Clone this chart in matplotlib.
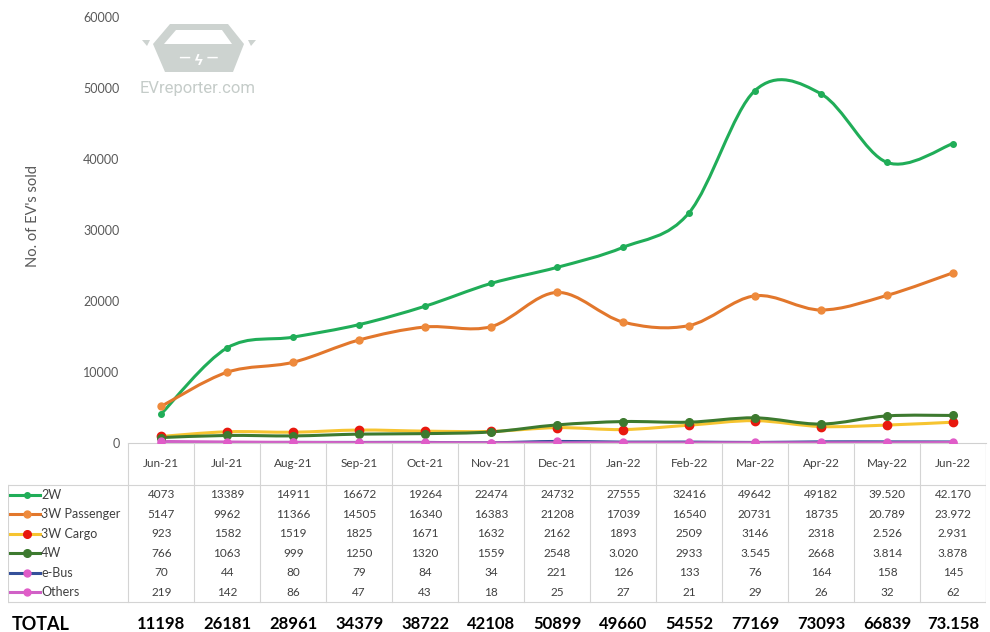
import numpy as np
import matplotlib
matplotlib.use("Agg")
import matplotlib.pyplot as plt
from matplotlib.path import Path
from matplotlib.patches import PathPatch, Polygon
from matplotlib.lines import Line2D

plt.rcParams['font.family'] = ['Lato', 'DejaVu Sans']

# data, as printed in the table under the chart
months = ['Jun-21', 'Jul-21', 'Aug-21', 'Sep-21', 'Oct-21', 'Nov-21', 'Dec-21',
          'Jan-22', 'Feb-22', 'Mar-22', 'Apr-22', 'May-22', 'Jun-22']
two_w = ['4073', '13389', '14911', '16672', '19264', '22474', '24732',
         '27555', '32416', '49642', '49182', '39.520', '42.170']
three_w_pass = ['5147', '9962', '11366', '14505', '16340', '16383', '21208',
                '17039', '16540', '20731', '18735', '20.789', '23.972']
three_w_cargo = ['923', '1582', '1519', '1825', '1671', '1632', '2162',
                 '1893', '2509', '3146', '2318', '2.526', '2.931']
four_w = ['766', '1063', '999', '1250', '1320', '1559', '2548',
          '3.020', '2933', '3.545', '2668', '3.814', '3.878']
e_bus = ['70', '44', '80', '79', '84', '34', '221', '126', '133', '76', '164', '158', '145']
others = ['219', '142', '86', '47', '43', '18', '25', '27', '21', '29', '26', '32', '62']
totals = ['11198', '26181', '28961', '34379', '38722', '42108', '50899',
          '49660', '54552', '77169', '73093', '66839', '73.158']

series = [
    ('2W', two_w, '#20ad58', '#20ad58', 4),
    ('3W Passenger', three_w_pass, '#e2772c', '#ee8a3c', 5),
    ('3W Cargo', three_w_cargo, '#f6c430', '#e8180e', 6),
    ('4W', four_w, '#3d7a2f', '#3d7a2f', 5.5),
    ('e-Bus', e_bus, '#35509a', '#e05cc8', 5),
    ('Others', others, '#d061c6', '#e05cc8', 5),
]


def to_num(vals):
    return np.array([float(v.replace('.', '')) for v in vals])


def smooth_path(x, y):
    # Excel-style smoothed line: cubic bezier segments through the points
    pts = np.column_stack([x, y])
    n = len(pts)
    verts = [pts[0]]
    codes = [Path.MOVETO]
    for i in range(n - 1):
        p0 = pts[i - 1] if i > 0 else pts[i]
        p1 = pts[i]
        p2 = pts[i + 1]
        p3 = pts[i + 2] if i + 2 < n else pts[i + 1]
        c1 = p1 + (p2 - p0) / 6.0
        c2 = p2 - (p3 - p1) / 6.0
        verts += [c1, c2, p2]
        codes += [Path.CURVE4] * 3
    return Path(verts, codes)


W, H = 990, 632
fig = plt.figure(figsize=(W / 100, H / 100), dpi=100)


def px(x, y):
    return (x / W, 1 - y / H)


# line chart
ax = fig.add_axes([128 / W, (H - 443) / H, 858 / W, 426 / H])
x = np.arange(len(months))
for name, vals, lc, mc, ms in series:
    y = to_num(vals)
    ax.add_patch(PathPatch(smooth_path(x, y), facecolor='none', edgecolor=lc,
                           lw=2.2, capstyle='round', zorder=2))
    ax.plot(x, y, ls='none', marker='o', ms=ms, color=mc, zorder=3)

ax.set_xlim(-0.5, len(months) - 0.5)
ax.set_ylim(0, 60000)
ax.set_yticks(np.arange(0, 60001, 10000))
ax.set_xticks([])
for s in ['top', 'right', 'left']:
    ax.spines[s].set_visible(False)
ax.spines['bottom'].set_color('#d0d0d0')
ax.tick_params(axis='y', length=0, pad=6, labelsize=9, labelcolor='#595959')
ax.patch.set_alpha(0)
fig.text(33 / W, 1 - 216 / H, "No. of EV's sold", rotation=90, ha='center',
         va='center', fontsize=10.5, color='#595959')

# watermark logo
gray = '#cdd3d0'
body = [(170, 24), (228, 24), (244, 44), (233, 72), (165, 72), (153, 44)]
fig.patches.append(Polygon([px(*p) for p in body], closed=True,
                           transform=fig.transFigure, facecolor=gray,
                           edgecolor='none', zorder=0))
window = [(176, 30), (222, 30), (232, 44), (164, 44)]
fig.patches.append(Polygon([px(*p) for p in window], closed=True,
                           transform=fig.transFigure, facecolor='white',
                           edgecolor='none', zorder=0))
for mirror in ([(142, 40), (150, 40), (147, 46)], [(248, 40), (256, 40), (251, 46)]):
    fig.patches.append(Polygon([px(*p) for p in mirror], closed=True,
                               transform=fig.transFigure, facecolor=gray,
                               edgecolor='none', zorder=0))
fig.text(*px(199, 58), '— ϟ —', ha='center', va='center', fontsize=11,
         color='white', fontweight='bold')
fig.text(*px(198, 89), 'EVreporter.com', ha='center', va='center',
         fontsize=12, color='#c5ccc9', family=['Roboto', 'DejaVu Sans'])

# data table
tx = fig.add_axes([8 / W, 0, 978 / W, (H - 443) / H])
unit = 19.4
left = -0.5 - 120 / 65.8
tx.set_xlim(left, len(months) - 0.5)
tx.set_ylim((632 - 495) / unit, -(495 - 443) / unit)
tx.axis('off')
top = tx.get_ylim()[1]
grid = '#d4d4d4'
for k in range(len(months) + 1):
    tx.plot([k - 0.5, k - 0.5], [top, 5.5], color=grid, lw=0.8)
tx.plot([left, len(months) - 0.5], [-0.5, -0.5], color=grid, lw=0.8)
tx.plot([left, len(months) - 0.5], [5.5, 5.5], color=grid, lw=0.8)
tx.plot([left, left], [-0.5, 5.5], color=grid, lw=0.8)
tx.plot([len(months) - 0.5, len(months) - 0.5], [top, 5.5], color=grid, lw=0.8)

for i, m in enumerate(months):
    tx.text(i, -1.6, m, ha='center', va='center', fontsize=8.5, color='#404040')

key_w = 30 / 65.8
for r, (name, vals, lc, mc, ms) in enumerate(series):
    x0 = left + 2 / 65.8
    tx.add_line(Line2D([x0, x0 + key_w], [r, r], color=lc, lw=2.2))
    tx.plot([x0 + key_w * 0.55], [r], marker='o', ms=min(ms, 5.5), color=mc)
    tx.text(x0 + key_w + 1 / 65.8, r, name, ha='left', va='center',
            fontsize=9, color='#404040')
    for i, v in enumerate(vals):
        tx.text(i, r, v, ha='center', va='center', fontsize=8.5, color='#404040')

tx.text(left + 4 / 65.8, 6.65, 'TOTAL', ha='left', va='center', fontsize=13,
        fontweight='bold', color='black')
for i, v in enumerate(totals):
    tx.text(i, 6.65, v, ha='center', va='center', fontsize=12,
            fontweight='bold', color='black')

fig.savefig('out.png', dpi=100)
